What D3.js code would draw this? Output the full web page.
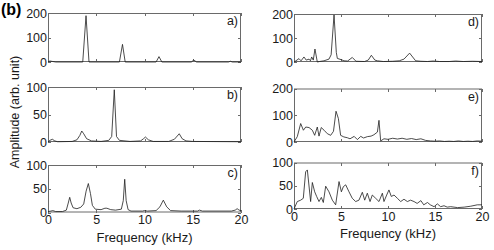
<!doctype html>
<html lang="en">
<head>
<meta charset="utf-8">
<title>Amplitude spectra</title>
<script src="https://d3js.org/d3.v7.min.js"></script>
<style>
  body { margin: 0; background: #fff; }
  svg { display: block; font-family: "Liberation Sans", Arial, Helvetica, sans-serif; }
</style>
</head>
<body>
<div id="chart"></div>
<script>
// frequency (kHz) / amplitude pairs
const freqA = [0, 0.2, 0.5, 0.8, 3.6, 3.94, 4.25, 7.4, 7.72, 8.0, 11.2, 11.5, 11.8, 14.85, 15.1, 15.4, 18.7, 18.9, 19.1, 20];
const ampA  = [1, 4, 2, 0, 0, 189, 0, 0, 72, 0, 0, 22, 0, 0, 8, 0, 0, 3, 0, 0];

const freqB = [0, 0.2, 0.45, 0.7, 1, 2.5, 3.0, 3.3, 3.5, 3.7, 4.0, 4.5, 5.5, 6.3, 6.6, 6.87, 7.1, 7.4, 8.5, 9.6, 9.9, 10.1, 10.4, 10.9, 12.5, 13.1, 13.6, 13.9, 14.3, 15, 20];
const ampB  = [0, 3, 5, 2, 0.5, 1, 4, 12, 20, 15, 6, 2, 1, 3, 10, 95, 10, 3, 1, 2, 6, 9, 4, 1, 1, 5, 15, 6, 2, 1, 0.5];

const freqC = [0, 0.3, 0.5, 0.8, 1.5, 1.9, 2.1, 2.25, 2.4, 2.6, 3.0, 3.4, 3.7, 3.95, 4.18, 4.4, 4.6, 4.9, 5.5, 5.9, 6.1, 6.5, 7.0, 7.6, 7.8, 7.95, 8.1, 8.3, 8.6, 9.8, 10.0, 10.3, 11.2, 11.6, 11.95, 12.3, 12.7, 13.8, 15.5, 15.7, 16, 19.0, 19.4, 19.6, 19.8, 20];
const ampC  = [2, 3, 4, 2, 2, 5, 20, 32, 20, 10, 8, 11, 18, 45, 61, 40, 15, 7, 6, 9, 9, 6, 5, 7, 25, 70, 25, 6, 3, 3, 4, 3, 4, 12, 26, 12, 4, 3, 3, 5, 3, 3, 5, 8, 5, 4];

const freqD = [0, 0.2, 0.53, 0.75, 1.06, 1.3, 1.6, 1.75, 1.88, 2.05, 2.23, 2.48, 2.7, 3.19, 3.72, 3.95, 4.26, 4.5, 4.61, 5.0, 5.32, 5.7, 6.2, 6.6, 7.5, 7.9, 8.23, 8.6, 8.87, 9.5, 10.5, 11.2, 11.7, 12.3, 12.94, 13.5, 14.2, 14.8, 15.5, 16.5, 17.2, 18, 19, 20];
const ampD  = [0, 5, 14, 5, 21, 8, 12, 5, 21, 8, 54, 0, 2, 5, 12, 30, 196, 40, 15, 10, 5, 4, 19, 3, 2, 8, 28, 8, 5, 2, 3, 5, 12, 37, 5, 3, 2, 4, 2, 2, 4, 2, 3, 2];

const freqE = [0, 0.35, 0.71, 1.0, 1.25, 1.6, 1.95, 2.2, 2.48, 2.66, 2.9, 3.2, 3.55, 3.9, 4.2, 4.47, 4.72, 4.96, 5.3, 5.67, 5.96, 6.4, 6.74, 7.1, 7.4, 7.8, 8.2, 8.5, 8.87, 9.04, 9.22, 9.57, 10, 10.5, 11, 11.5, 12, 12.5, 13, 13.5, 14, 14.5, 15, 15.5, 16, 16.5, 17, 17.5, 18, 18.5, 19, 19.5, 20];
const ampE  = [0, 20, 69, 44, 56, 54, 44, 25, 56, 22, 54, 44, 31, 25, 40, 115, 88, 25, 19, 16, 12, 21, 9, 21, 15, 20, 22, 27, 37, 81, 4, 12, 10, 14, 11, 14, 10, 13, 9, 12, 6, 4, 3, 4, 2, 3, 2, 4, 2, 3, 2, 4, 3];

const freqF = [0, 0.35, 0.71, 0.99, 1.24, 1.42, 1.77, 1.95, 2.2, 2.41, 2.66, 2.91, 3.12, 3.37, 3.72, 4.08, 4.43, 4.79, 5.04, 5.25, 5.5, 5.85, 6.2, 6.56, 6.91, 7.27, 7.52, 7.8, 8.09, 8.33, 8.69, 9.04, 9.4, 9.57, 9.86, 10.1, 10.35, 10.64, 11, 11.35, 11.7, 12.06, 12.4, 12.77, 13.1, 13.5, 13.8, 14.2, 14.5, 14.9, 15.25, 15.6, 15.96, 16.3, 16.67, 17.4, 18.1, 18.8, 19.5, 20];
const ampF  = [0, 16, 19, 23, 80, 84, 16, 57, 37, 27, 16, 25, 14, 49, 37, 19, 9, 59, 37, 48, 52, 37, 23, 16, 19, 36, 19, 34, 16, 30, 23, 16, 34, 16, 30, 41, 27, 30, 23, 16, 21, 16, 19, 16, 12, 18, 9, 14, 9, 5, 11, 5, 7, 4, 5, 3, 4, 6, 9, 9];

const xTicks = [0, 5, 10, 15, 20];
const yTicks200 = [0, 100, 200];
const yTicks100 = [0, 50, 100];

const width = 494, height = 250;
const axisColor = "#6a6a6a", textColor = "#1a1a1a";

const panels = [
  {label: "a)", f: freqA, a: ampA, ymax: 200, yt: yTicks200, x0: 48, x1: 241, y0: 13, y1: 62, xl: false},
  {label: "b)", f: freqB, a: ampB, ymax: 100, yt: yTicks100, x0: 48, x1: 241, y0: 87, y1: 142, xl: false},
  {label: "c)", f: freqC, a: ampC, ymax: 100, yt: yTicks100, x0: 48, x1: 241, y0: 165, y1: 212.5, xl: true},
  {label: "d)", f: freqD, a: ampD, ymax: 200, yt: yTicks200, x0: 294, x1: 482, y0: 14, y1: 62, xl: false},
  {label: "e)", f: freqE, a: ampE, ymax: 200, yt: yTicks200, x0: 294, x1: 482, y0: 88.5, y1: 142, xl: false},
  {label: "f)", f: freqF, a: ampF, ymax: 100, yt: yTicks100, x0: 294, x1: 482, y0: 162.5, y1: 209, xl: true}
];

const svg = d3.select("#chart").append("svg")
    .attr("width", width)
    .attr("height", height)
    .attr("viewBox", [0, 0, width, height]);

panels.forEach(p => {
  const x = d3.scaleLinear([0, 20], [p.x0, p.x1]);
  const y = d3.scaleLinear([0, p.ymax], [p.y1, p.y0]);
  const g = svg.append("g");

  // MATLAB style box with inward ticks on all sides
  const styleAxis = sel => {
    sel.select(".domain").remove();
    sel.selectAll(".tick line").attr("stroke", axisColor).attr("shape-rendering", "crispEdges");
    sel.selectAll(".tick text").attr("fill", textColor).attr("font-size", 12.5);
  };

  g.append("g")
      .attr("transform", `translate(0,${p.y1})`)
      .call(d3.axisBottom(x).tickValues(xTicks).tickSize(-3).tickPadding(3)
        .tickFormat(p.xl ? d3.format("d") : () => ""))
      .call(styleAxis);
  g.append("g")
      .attr("transform", `translate(0,${p.y0})`)
      .call(d3.axisTop(x).tickValues(xTicks).tickSize(-3).tickFormat(() => ""))
      .call(styleAxis);
  g.append("g")
      .attr("transform", `translate(${p.x0},0)`)
      .call(d3.axisLeft(y).tickValues(p.yt).tickSize(-3).tickPadding(1).tickFormat(d3.format("d")))
      .call(styleAxis);
  g.append("g")
      .attr("transform", `translate(${p.x1},0)`)
      .call(d3.axisRight(y).tickValues(p.yt).tickSize(-3).tickFormat(() => ""))
      .call(styleAxis);

  g.append("rect")
      .attr("x", p.x0 + 0.5)
      .attr("y", p.y0 + 0.5)
      .attr("width", p.x1 - p.x0 - 1)
      .attr("height", p.y1 - p.y0 - 1)
      .attr("fill", "none")
      .attr("stroke", axisColor)
      .attr("stroke-width", 1);

  const line = d3.line()
      .x(i => x(p.f[i]))
      .y(i => y(p.a[i]));

  g.append("path")
      .datum(d3.range(p.f.length))
      .attr("fill", "none")
      .attr("stroke", "#1e1e1e")
      .attr("stroke-width", 0.8)
      .attr("stroke-linejoin", "round")
      .attr("d", line);

  g.append("text")
      .attr("x", p.x1 - 3)
      .attr("y", p.y0 + 12)
      .attr("text-anchor", "end")
      .attr("font-size", 12.5)
      .attr("fill", textColor)
      .text(p.label);

  if (p.xl) {
    g.append("text")
        .attr("x", (p.x0 + p.x1) / 2)
        .attr("y", p.y1 + 29)
        .attr("text-anchor", "middle")
        .attr("font-size", 13)
        .attr("fill", textColor)
        .text("Frequency (kHz)");
  }
});

svg.append("text")
    .attr("transform", "translate(19,112) rotate(-90)")
    .attr("text-anchor", "middle")
    .attr("font-size", 12.5)
    .attr("fill", textColor)
    .text("Amplitude (arb. unit)");

svg.append("text")
    .attr("x", 1)
    .attr("y", 15)
    .attr("font-size", 16)
    .attr("font-weight", "bold")
    .attr("fill", "#000")
    .text("(b)");
</script>
</body>
</html>
